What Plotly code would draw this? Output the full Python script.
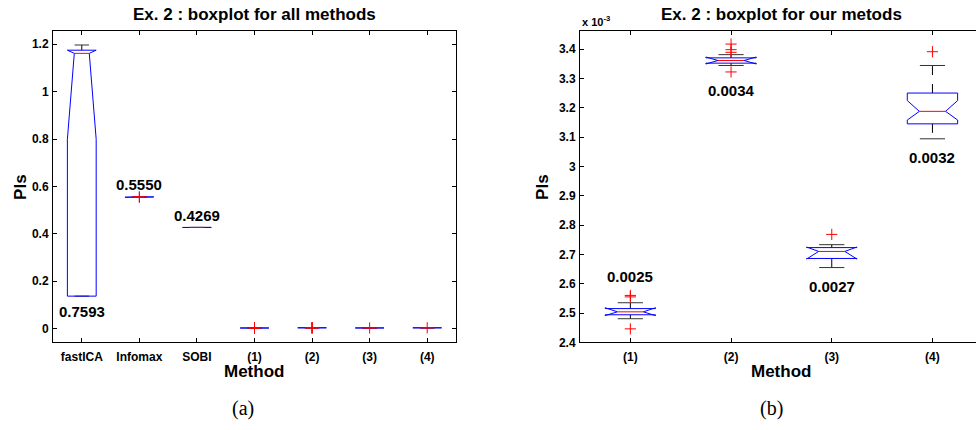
import plotly.graph_objects as go

# ---------------- data ----------------
methods = ["fastICA", "Infomax", "SOBI", "(1)", "(2)", "(3)", "(4)"]
q1 = [0.137, 0.5545, 0.4268, 0.002494, 0.003352, 0.002686, 0.003145]
median = [1.1616, 0.5550, 0.4269, 0.002504, 0.003361, 0.002710, 0.0031876]
q3 = [1.175, 0.5556, 0.4270, 0.002515, 0.003370, 0.002723, 0.003250]
notch_lo = [0.799, 0.5545, 0.4268, 0.002491, 0.003349, 0.002684, 0.003158]
notch_hi = [1.175, 0.5556, 0.4270, 0.002518, 0.003373, 0.002725, 0.0032245]
whisker_lo = [0.137, 0.5538, 0.4268, 0.0024805, 0.003344, 0.002655, 0.003094]
whisker_hi = [1.197, 0.5562, 0.4270, 0.002535, 0.003381, 0.002733, 0.003344]
outliers = [
    [],
    [0.5548, 0.5552],
    [],
    [0.002555, 0.002560, 0.002446],
    [0.003417, 0.003398, 0.003389, 0.003322],
    [0.002768],
    [0.003391],
]
# value labels written on the panels
labels_all = ["0.7593", "0.5550", "0.4269", "", "", "", ""]
labels_all_side = ["below", "above", "above", "", "", "", ""]
labels_ours = ["0.0025", "0.0034", "0.0027", "0.0032"]
labels_ours_side = ["above", "below", "below", "below"]

ours_idx = [3, 4, 5, 6]
ours_methods = [methods[i] for i in ours_idx]

yticks_all = [0, 0.2, 0.4, 0.6, 0.8, 1.0, 1.2]
yticktext_all = ["0", "0.2", "0.4", "0.6", "0.8", "1", "1.2"]
yticktext_ours = ["2.4", "2.5", "2.6", "2.7", "2.8", "2.9", "3", "3.1", "3.2", "3.3", "3.4"]
yticks_ours = [float(t) * 1e-3 for t in yticktext_ours]

# ---------------- styling ----------------
W, H = 976, 430
HW = 0.25      # box half width
NW = 0.13      # notch half width
CW = 0.125     # cap half width
BLUE = "#0000ff"
RED = "#ff0000"
FONT = "Liberation Sans"

fig = go.Figure()


def add_panel(idx_list, xa, ya):
    bx, by, mx, my, wx, wy, cx, cy, ox, oy = [], [], [], [], [], [], [], [], [], []
    for k, i in enumerate(idx_list):
        p = k + 1
        # whiskers (dashed)
        wx += [p, p, None, p, p, None]
        wy += [q3[i], whisker_hi[i], None, q1[i], whisker_lo[i], None]
        # caps
        cx += [p - CW, p + CW, None, p - CW, p + CW, None]
        cy += [whisker_hi[i], whisker_hi[i], None, whisker_lo[i], whisker_lo[i], None]
        # notched box outline
        bx += [p - HW, p - HW, p - NW, p - HW, p - HW, p + HW, p + HW, p + NW, p + HW, p + HW, p - HW, None]
        by += [q1[i], notch_lo[i], median[i], notch_hi[i], q3[i], q3[i], notch_hi[i], median[i],
               notch_lo[i], q1[i], q1[i], None]
        # median
        mx += [p - NW, p + NW, None]
        my += [median[i], median[i], None]
        for v in outliers[i]:
            ox.append(p)
            oy.append(v)
    common = dict(xaxis=xa, yaxis=ya, showlegend=False, hoverinfo="skip")
    fig.add_trace(go.Scatter(x=wx, y=wy, mode="lines", line=dict(color="black", width=1, dash="dash"), **common))
    fig.add_trace(go.Scatter(x=cx, y=cy, mode="lines", line=dict(color="#333333", width=1), **common))
    fig.add_trace(go.Scatter(x=bx, y=by, mode="lines", line=dict(color=BLUE, width=1), **common))
    fig.add_trace(go.Scatter(x=mx, y=my, mode="lines", line=dict(color=RED, width=1), **common))
    fig.add_trace(go.Scatter(x=ox, y=oy, mode="markers",
                             marker=dict(symbol="cross-thin", size=8, line=dict(color=RED, width=1), color=RED),
                             cliponaxis=False, **common))


add_panel(list(range(len(methods))), "x", "y")
add_panel(ours_idx, "x2", "y2")

annots = []
valfont = dict(family=FONT, size=15, color="black", weight="bold")


def extremes(i):
    vals = [q1[i], q3[i], whisker_lo[i], whisker_hi[i]] + outliers[i]
    return min(vals), max(vals)


for k, i in enumerate(range(len(methods))):
    if not labels_all[k]:
        continue
    lo, hi = extremes(i)
    up = labels_all_side[k] == "above"
    annots.append(dict(x=k + 1, y=hi if up else lo, xref="x", yref="y", text=labels_all[k],
                       showarrow=False, font=valfont, yanchor="middle",
                       yshift=12 if up else -15))
for k, i in enumerate(ours_idx):
    lo, hi = extremes(i)
    up = labels_ours_side[k] == "above"
    annots.append(dict(x=k + 1, y=hi if up else lo, xref="x2", yref="y2", text=labels_ours[k],
                       showarrow=False, font=valfont, yanchor="middle",
                       yshift=19 if up else -19))

titlefont = dict(family=FONT, size=17, color="black", weight="bold")
labfont = dict(family=FONT, size=17, color="black", weight="bold")
capfont = dict(family="Liberation Serif", size=20, color="black")


def px(xp):
    return xp / W


def py(yp):
    return 1 - yp / H


annots += [
    dict(x=px(254.5), y=py(15), text="Ex. 2 : boxplot for all methods", font=titlefont),
    dict(x=px(781), y=py(15), text="Ex. 2 : boxplot for our metods", font=titlefont),
    dict(x=px(580), y=py(21), text="x 10<sup>-3</sup>", xanchor="left",
         font=dict(family=FONT, size=11, color="black", weight="bold")),
    dict(x=px(21), y=py(190), text="PIs", textangle=-90, font=labfont),
    dict(x=px(543), y=py(190), text="PIs", textangle=-90, font=labfont),
    dict(x=px(254), y=py(378), text="Method", font=labfont),
    dict(x=px(781), y=py(378), text="Method", font=labfont),
    dict(x=px(243), y=py(415), text="(a)", font=capfont),
    dict(x=px(771), y=py(415), text="(b)", font=capfont),
]
for a in annots[-9:]:
    a.update(xref="paper", yref="paper", showarrow=False)
    a.setdefault("xanchor", "center")
    a.setdefault("yanchor", "middle")

tickfont = dict(family=FONT, size=12, color="black", weight="bold")
axis_common = dict(showgrid=False, zeroline=False, showline=True, linecolor="black", linewidth=1,
                   ticks="inside", ticklen=4, tickwidth=1, tickcolor="black", tickfont=tickfont)

ydom = [py(348), py(32)]
fig.update_layout(
    width=W, height=H, margin=dict(l=0, r=0, t=0, b=0),
    paper_bgcolor="white", plot_bgcolor="white",
    xaxis=dict(domain=[px(53), px(456)], range=[0.5, 7.5], tickvals=list(range(1, len(methods) + 1)),
               ticktext=methods, mirror="ticks", anchor="y", ticklabelstandoff=3, **axis_common),
    yaxis=dict(domain=ydom, range=[-0.058, 1.254], tickvals=yticks_all, ticktext=yticktext_all,
               mirror="ticks", anchor="x", ticklabelstandoff=1, **axis_common),
    xaxis2=dict(domain=[px(580), 1.0], range=[0.5, 0.5 + (W - 580) / 100.7],
                tickvals=list(range(1, len(ours_methods) + 1)), ticktext=ours_methods,
                mirror="ticks", anchor="y2", ticklabelstandoff=3, **axis_common),
    yaxis2=dict(domain=ydom, range=[0.0024, 0.00346], tickvals=yticks_ours, ticktext=yticktext_ours,
                mirror=False, anchor="x2", ticklabelstandoff=1, **axis_common),
    annotations=annots,
)

fig.write_html("out.html")
